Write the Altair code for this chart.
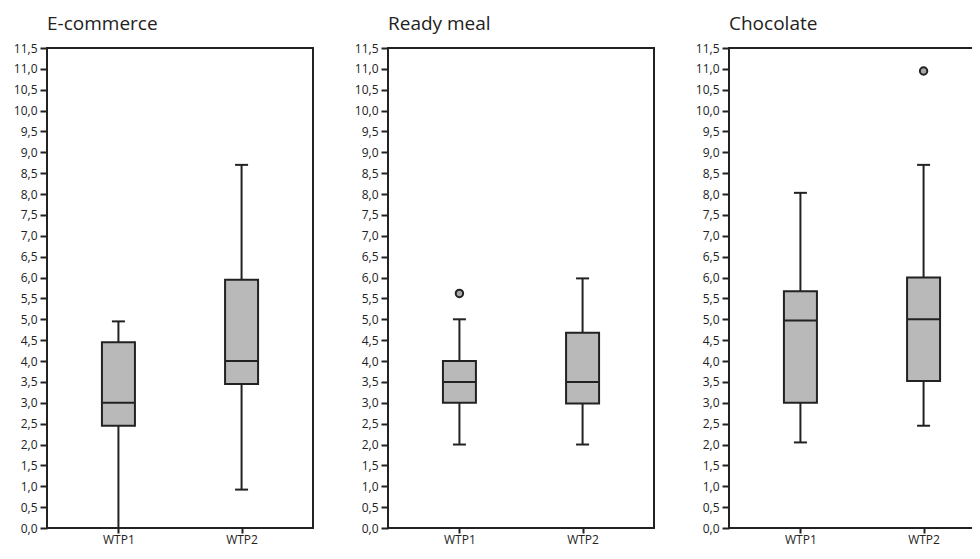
import altair as alt
import pandas as pd

panels = ["E-commerce", "Ready meal", "Chocolate"]
groups = ["WTP1", "WTP2"]

# per panel, per group (WTP1, WTP2)
whisk_low = [[0.0, 0.92], [2.0, 2.0], [2.05, 2.45]]
q1 = [[2.45, 3.45], [3.0, 2.98], [3.0, 3.52]]
median = [[3.0, 4.0], [3.5, 3.5], [4.97, 5.0]]
q3 = [[4.45, 5.95], [4.0, 4.68], [5.67, 6.0]]
whisk_high = [[4.95, 8.7], [5.0, 5.98], [8.03, 8.7]]

outlier_panel = ["Ready meal", "Chocolate"]
outlier_group = ["WTP1", "WTP2"]
outlier_value = [5.62, 10.95]

tick_values = [i * 0.5 for i in range(24)]

DARK = "#222222"
FILL = "#b9b9b9"
FONT = "Open Sans"
LW = 2


def panel(i):
    name = panels[i]
    df = pd.DataFrame({
        "group": groups,
        "low": whisk_low[i],
        "q1": q1[i],
        "median": median[i],
        "q3": q3[i],
        "high": whisk_high[i],
    })
    xaxis = alt.Axis(title=None, labelAngle=0, tickSize=5, labelPadding=1,
                     domain=False, tickColor=DARK, tickWidth=LW,
                     labelFontSize=12, labelColor=DARK, labelFont=FONT)
    xscale = alt.Scale(type="point", domain=groups, padding=0.58)
    yscale = alt.Scale(domain=[0, 11.5], nice=False, zero=False)
    yaxis = alt.Axis(title=None, values=tick_values, grid=False, labelOverlap=False,
                     labelExpr="replace(format(datum.value, '.1f'), '.', ',')",
                     tickSize=7, labelPadding=3, tickColor=DARK, tickWidth=LW,
                     domain=False, labelFontSize=12, labelColor=DARK, labelFont=FONT,
                     minExtent=39, maxExtent=39)

    def X():
        return alt.X("group:N", scale=xscale, axis=xaxis)

    def Y(field):
        return alt.Y(field, type="quantitative", scale=yscale, axis=yaxis)

    base = alt.Chart(df)
    whisk = base.mark_rule(color=DARK, strokeWidth=LW).encode(
        x=X(), y=Y("low"), y2="high:Q")
    box = base.mark_bar(size=33, fill=FILL, stroke=DARK, strokeWidth=LW, opacity=1).encode(
        x=X(), y=Y("q1"), y2="q3:Q")
    med = base.mark_tick(size=33, thickness=LW, color=DARK, orient="horizontal",
                         opacity=1).encode(x=X(), y=Y("median"))
    cap_lo = base.mark_tick(size=13, thickness=LW, color=DARK, orient="horizontal",
                            opacity=1).encode(x=X(), y=Y("low"))
    cap_hi = base.mark_tick(size=13, thickness=LW, color=DARK, orient="horizontal",
                            opacity=1).encode(x=X(), y=Y("high"))
    layers = [whisk, box, med, cap_lo, cap_hi]
    odf = pd.DataFrame({"panel": outlier_panel, "group": outlier_group, "value": outlier_value})
    odf = odf[odf["panel"] == name]
    if len(odf):
        pts = alt.Chart(odf).mark_point(filled=True, size=55, fill="#a8a8a8", stroke=DARK,
                                        strokeWidth=LW, opacity=1).encode(
            x=X(), y=Y("value"))
        layers.append(pts)
    return alt.layer(*layers).properties(
        width=266, height=480,
        title=alt.TitleParams(name, anchor="start", frame="group", fontSize=19,
                              fontWeight="normal", font=FONT, color=DARK, offset=8),
    )


chart = alt.hconcat(*[panel(i) for i in range(3)], spacing=34).properties(
    autosize=alt.AutoSizeParams(type="none"),
    padding={"left": 39, "top": 40, "right": 925, "bottom": 500},
).configure_view(stroke=DARK, strokeWidth=LW)

chart.save("out.html", embed_options={"renderer": "svg", "actions": False})
